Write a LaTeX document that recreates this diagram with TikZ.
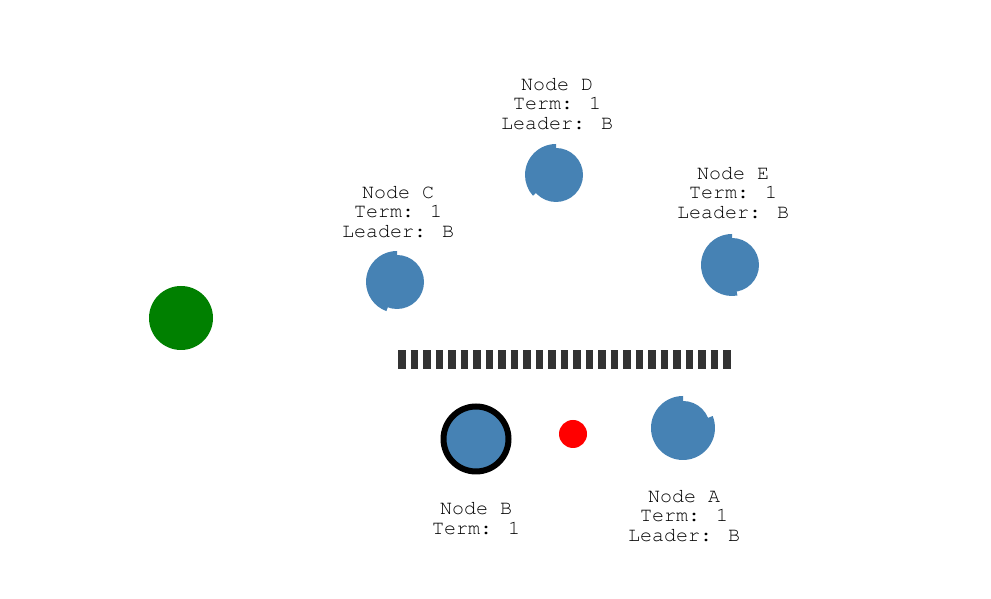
\documentclass[tikz,border=0pt]{standalone}
\usepackage{fontspec}
\newfontfamily\labfont{texgyrecursor-regular.otf}
\definecolor{nodeblue}{HTML}{4682B4}
\definecolor{dashgray}{HTML}{333333}
\definecolor{leafgreen}{HTML}{008000}
\begin{document}
\begin{tikzpicture}[x=1pt,y=1pt,
  lab/.style={font=\labfont\fontsize{20}{19.5}\selectfont, align=center, inner sep=0pt, text=black},
  pie/.style={fill=nodeblue}]
\useasboundingbox (0,0) rectangle (991,599);
% centres
\coordinate (D) at (556,424);
\coordinate (C) at (397,317);
\coordinate (E) at (732,334);
\coordinate (A) at (683,171);
% Node D
\fill[pie] (D) circle[radius=27pt];
\fill[pie] (D) -- ++(90:31pt) arc[start angle=90,end angle=222,radius=31pt] -- cycle;
% Node C
\fill[pie] (C) circle[radius=27pt];
\fill[pie] (C) -- ++(90:31pt) arc[start angle=90,end angle=250,radius=31pt] -- cycle;
% Node E
\fill[pie] (E) circle[radius=27pt];
\fill[pie] (E) -- ++(90:31pt) arc[start angle=90,end angle=280,radius=31pt] -- cycle;
% Node A
\fill[pie] (A) circle[radius=27pt];
\fill[pie] (A) -- ++(90:32pt) arc[start angle=90,end angle=382,radius=32pt] -- cycle;
% Node B
\node[circle, fill=nodeblue, draw=black, line width=6pt, minimum size=65pt, inner sep=0pt] (B) at (476,160) {};
% red message dot
\node[circle, fill=red, minimum size=28pt, inner sep=0pt] (msg) at (573,165) {};
% green client
\node[circle, fill=leafgreen, minimum size=64pt, inner sep=0pt] (client) at (181,281) {};
% partition bar
\coordinate (barL) at (398,239.5);
\coordinate (barR) at (730.5,239.5);
\draw[dashgray, line width=19pt, dash pattern=on 7.5pt off 5pt] (barL) -- (barR);
% labels
\node[lab] (labD) at (557,495) {Node D\\Term: 1\\Leader: B};
\node[lab] (labC) at (398,387) {Node C\\Term: 1\\Leader: B};
\node[lab] (labE) at (733,406) {Node E\\Term: 1\\Leader: B};
\node[lab] (labB) at (476,80.5) {Node B\\Term: 1};
\node[lab] (labA) at (684,83) {Node A\\Term: 1\\Leader: B};
\end{tikzpicture}
\end{document}
